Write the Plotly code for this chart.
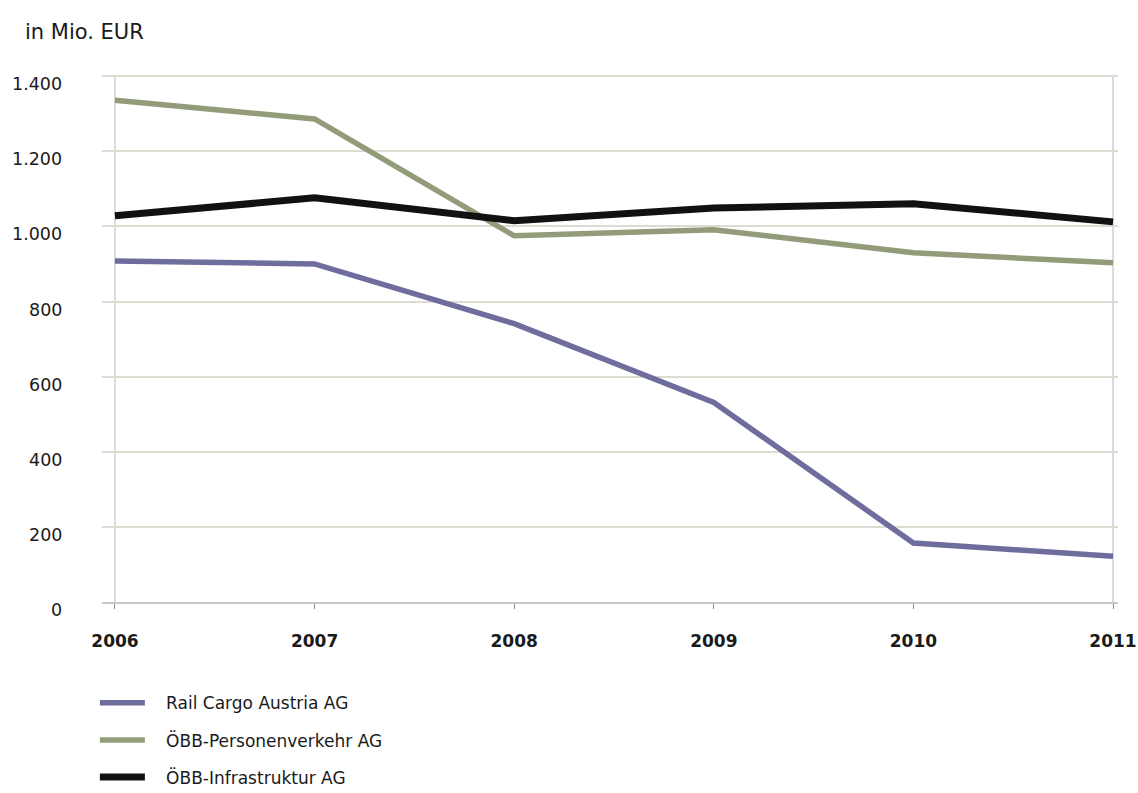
import plotly.graph_objects as go

years = [2006, 2007, 2008, 2009, 2010, 2011]
year_labels = ["2006", "2007", "2008", "2009", "2010", "2011"]
rail_cargo = [908, 900, 741, 531, 157, 122]
personenverkehr = [1336, 1286, 975, 991, 930, 903]
infrastruktur = [1028, 1076, 1015, 1049, 1060, 1012]
y_ticks = [0, 200, 400, 600, 800, 1000, 1200, 1400]
y_tick_labels = ["0", "200", "400", "600", "800", "1.000", "1.200", "1.400"]

FONT = "DejaVu Sans, sans-serif"
PAD = "\u00a0\u00a0\u00a0"

fig = go.Figure()
series = [
    ("Rail Cargo Austria AG", rail_cargo, "#6f6d9e", 5.5),
    ("ÖBB-Personenverkehr AG", personenverkehr, "#929c7a", 5.5),
    ("ÖBB-Infrastruktur AG", infrastruktur, "#111111", 7),
]
for i, (name, vals, col, w) in enumerate(series):
    fig.add_trace(go.Scatter(
        x=years, y=vals, name=PAD + name, mode="lines",
        line=dict(color=col, width=w),
        legendgroup=f"g{i}",
    ))

# y tick labels as annotations (slightly below grid lines as in the reference)
for v, t in zip(y_ticks, y_tick_labels):
    fig.add_annotation(
        x=-0.037, xref="paper", y=v, yref="y", yshift=-8,
        text=t, showarrow=False, xanchor="right", yanchor="middle",
        font=dict(family=FONT, size=17.5, color="#1a1a1a"),
    )

# vertical frame lines at first and last year
for xv in (years[0], years[-1]):
    fig.add_shape(type="line", x0=xv, x1=xv, y0=0, y1=y_ticks[-1],
                  xref="x", yref="y", line=dict(color="#d0d0d0", width=1.5),
                  layer="below")

fig.add_annotation(
    x=(23 - 102) / 1016, xref="paper", y=(602 - 32) / 527, yref="paper",
    text="in Mio. EUR", showarrow=False, xanchor="left", yanchor="middle",
    font=dict(family=FONT, size=21, color="#1a1a1a"),
)

fig.update_layout(
    width=1138, height=793,
    margin=dict(l=102, r=20, t=75, b=191, autoexpand=False),
    paper_bgcolor="white", plot_bgcolor="white",
    font=dict(family=FONT, size=17, color="#1a1a1a"),
    showlegend=True,
    legend=dict(
        x=-0.007, y=-0.158, xanchor="left", yanchor="top",
        orientation="v", tracegroupgap=12,
        font=dict(family=FONT, size=17, color="#1a1a1a"),
        itemwidth=45,
    ),
    xaxis=dict(
        range=[2005.935, 2011.025],
        tickvals=years, ticktext=year_labels,
        showgrid=False, zeroline=False,
        showline=True, linecolor="#c8c8c8", linewidth=1.5,
        ticks="outside", ticklen=5, tickcolor="#888888",
        tickfont=dict(family=FONT, size=17, color="#1a1a1a", weight="bold"),
        ticklabelstandoff=18,
    ),
    yaxis=dict(
        range=[0, 1403],
        tickvals=y_ticks, showticklabels=False,
        showgrid=True, gridcolor="#dcdcd2", gridwidth=1.5,
        zeroline=False, showline=False,
    ),
)

fig.write_html("out.html")
